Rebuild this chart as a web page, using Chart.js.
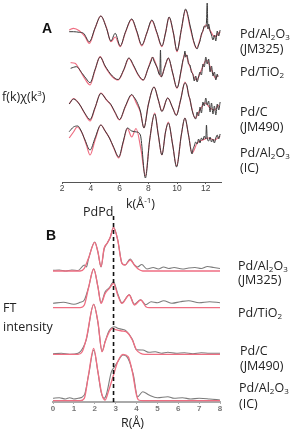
<!DOCTYPE html>
<html>
<head>
<meta charset="utf-8">
<title>Pd EXAFS fits</title>
<script src="https://cdn.jsdelivr.net/npm/chart.js@4.4.0/dist/chart.umd.min.js"></script>
<style>
  body { margin: 0; width: 291px; height: 432px; background: #fff; position: relative; overflow: hidden;
         font-family: "Open Sans", sans-serif; color: #222; }
  canvas { position: absolute; left: 0; }
  .t { position: absolute; font-size: 12.5px; line-height: 15px; white-space: nowrap; }
  .t sub { font-size: 8px; vertical-align: -2px; line-height: 0; }
  .t sup { font-size: 8px; vertical-align: 5px; line-height: 0; }
  .p { position: absolute; font: bold 14px "Liberation Sans", Arial, sans-serif; line-height: 14px; color: #111; }
</style>
</head>
<body>
<canvas id="chartA" width="291" height="198" style="top:0"></canvas>
<canvas id="chartB" width="291" height="200" style="top:216px"></canvas>

<div class="p" style="left:42px;top:21px">A</div>
<div class="p" style="left:46px;top:228px">B</div>
<div class="t" style="left:2px;top:89px">f(k)χ(k<sup>3</sup>)</div>
<div class="t" style="left:126px;top:196px">k(Å<sup>-1</sup>)</div>
<div class="t" style="left:83px;top:204px">PdPd</div>
<div class="t" style="left:3px;top:300px">FT</div>
<div class="t" style="left:3px;top:319px">intensity</div>
<div class="t" style="left:121px;top:415px">R(Å)</div>

<div class="t" style="left:240px;top:26px">Pd/Al<sub>2</sub>O<sub>3</sub></div>
<div class="t" style="left:240px;top:41px">(JM325)</div>
<div class="t" style="left:240px;top:64px">Pd/TiO<sub>2</sub></div>
<div class="t" style="left:240px;top:104px">Pd/C</div>
<div class="t" style="left:240px;top:119px">(JM490)</div>
<div class="t" style="left:240px;top:145px">Pd/Al<sub>2</sub>O<sub>3</sub></div>
<div class="t" style="left:240px;top:160px">(IC)</div>

<div class="t" style="left:238px;top:258px">Pd/Al<sub>2</sub>O<sub>3</sub></div>
<div class="t" style="left:238px;top:272px">(JM325)</div>
<div class="t" style="left:238px;top:305px">Pd/TiO<sub>2</sub></div>
<div class="t" style="left:240px;top:343px">Pd/C</div>
<div class="t" style="left:240px;top:358px">(JM490)</div>
<div class="t" style="left:239px;top:380px">Pd/Al<sub>2</sub>O<sub>3</sub></div>
<div class="t" style="left:239px;top:396px">(IC)</div>

<script>
// ---- panel A: k-space, [k, chi] pairs, stacked with offsetsA ----
const kTicks = [2, 4, 6, 8, 10, 12];
const offsetsA = [15.0, 11.2, 7.4, 4.2];

const fitA_JM325 = [[2.5,0.2],[2.8,0.37],[3.2,0.13],[3.6,-0.47],[3.9,-1.13],[4.3,0.37],[4.7,1.6],[5.1,0.4],[5.4,-0.97],[5.7,-0.5],[6.05,-1.47],[6.4,-0.1],[6.85,1.27],[7.2,0.03],[7.55,-1.4],[7.9,-0.1],[8.25,1.13],[8.6,-0.1],[8.95,-1.47],[9.2,-0.1],[9.45,1.47],[9.75,-0.1],[10.0,-1.97],[10.3,0.2],[10.6,2.2],[10.95,0.2],[11.35,-1.63],[11.7,-0.3],[12.0,0.7],[12.35,0.03],[12.6,-0.47],[13.0,0.03]];
const expA_JM325 = [[2.5,0.03],[2.8,0.03],[3.2,-0.03],[3.5,-0.13],[3.9,-0.97],[4.3,0.4],[4.7,1.6],[5.1,0.35],[5.4,-0.9],[5.7,-0.13],[6.05,-1.4],[6.4,-0.05],[6.85,1.3],[7.2,0.1],[7.55,-1.3],[7.9,-0.1],[8.25,1.2],[8.6,-0.05],[8.95,-1.4],[9.2,-0.1],[9.45,1.5],[9.75,-0.1],[10.0,-1.9],[10.3,0.25],[10.6,2.3],[10.7,2.0],[10.8,1.4],[10.9,0.7],[11.0,0.1],[11.1,-0.6],[11.2,-1.1],[11.3,-1.5],[11.4,-1.7],[11.5,-1.3],[11.6,-0.9],[11.7,-0.2],[11.8,0.1],[11.9,0.6],[12.0,0.5],[12.05,1.0],[12.1,2.9],[12.15,0.3],[12.2,0.8],[12.3,0.1],[12.4,-0.3],[12.5,-0.8],[12.6,-0.3],[12.7,-0.9],[12.8,0.1],[12.9,-0.4],[13.0,0.2]];

const fitA_TiO2 = [[2.6,0.73],[2.9,0.67],[3.3,-0.17],[3.6,-0.9],[3.95,-1.5],[4.3,0],[4.65,1.33],[5.0,0.33],[5.5,-0.67],[5.9,-1.0],[6.3,0],[6.65,1.17],[7.0,0.33],[7.3,-0.5],[7.65,-1.0],[8.0,0.2],[8.3,1.27],[8.6,0.33],[8.9,-0.67],[9.15,0.33],[9.4,1.17],[9.7,-0.33],[10.0,-1.83],[10.3,0],[10.55,1.67],[10.9,0.33],[11.35,-1.0],[11.7,0],[12.05,1.0],[12.4,0],[12.7,-0.83],[12.85,-0.5]];
const expA_TiO2 = [[2.6,0.17],[3.0,0.33],[3.4,-0.33],[3.7,-0.9],[3.95,-1.27],[4.3,0.05],[4.65,1.3],[5.0,0.4],[5.5,-0.6],[5.9,-0.95],[6.3,0.05],[6.65,1.2],[7.0,0.4],[7.3,-0.45],[7.65,-1.0],[8.0,0.2],[8.2,0.9],[8.3,1.3],[8.4,0.9],[8.6,0.3],[8.8,-0.5],[8.85,2.0],[8.9,-0.7],[9.15,0.3],[9.4,1.2],[9.7,-0.3],[10.0,-1.8],[10.3,0.1],[10.4,0.9],[10.5,1.4],[10.55,1.9],[10.6,1.3],[10.7,1.5],[10.8,0.6],[10.9,0.5],[11.0,-0.2],[11.1,-0.4],[11.2,-1.1],[11.3,-0.6],[11.4,-1.2],[11.5,-0.7],[11.6,-0.2],[11.7,-0.5],[11.8,0.6],[11.9,0.3],[12.0,1.3],[12.1,0.6],[12.2,1.1],[12.3,-0.2],[12.4,0.4],[12.5,-0.6],[12.6,-0.2],[12.7,-1.0],[12.8,-0.4],[12.85,-0.7]];

const fitA_JM490 = [[2.5,0.4],[2.8,0.95],[3.2,0.4],[3.6,-0.6],[3.95,-1.3],[4.3,0],[4.7,1.5],[5.1,0.8],[5.4,0.3],[5.7,-0.5],[6.0,-1.2],[6.4,0.1],[6.85,1.3],[7.2,0.4],[7.45,-0.4],[7.7,-2.0],[8.0,0.3],[8.4,2.1],[8.7,0.8],[8.95,-0.3],[9.35,1.0],[9.7,0],[9.95,-0.7],[10.25,0.8],[10.55,2.6],[10.9,0.8],[11.25,-1.0],[11.6,-0.2],[11.95,0.5],[12.3,0],[12.6,-0.2],[12.9,0.3]];
const expA_JM490 = [[2.5,0.4],[2.8,0.9],[3.2,0.4],[3.6,-0.55],[3.95,-1.15],[4.3,0.05],[4.7,1.45],[5.1,0.8],[5.4,0.35],[5.7,-0.45],[6.0,-1.15],[6.4,0.15],[6.85,1.35],[7.0,1.1],[7.2,0.65],[7.45,-0.3],[7.7,-2.0],[8.0,0.3],[8.4,2.1],[8.7,0.8],[8.95,-0.35],[9.35,1.0],[9.7,0],[9.95,-0.75],[10.25,0.8],[10.55,2.5],[10.7,2.2],[10.8,1.3],[10.9,0.9],[11.0,0.1],[11.1,-0.5],[11.2,-0.9],[11.3,-1.1],[11.4,-0.4],[11.5,-0.8],[11.6,0.1],[11.7,-0.5],[11.8,0.6],[11.9,0.2],[12.0,1.0],[12.1,0.3],[12.2,0.7],[12.3,-0.4],[12.4,0.5],[12.5,-0.6],[12.6,0.2],[12.7,-0.7],[12.8,0.4],[12.9,-0.2],[13.0,0.6]];

const fitA_IC = [[2.5,0.2],[2.8,0.8],[3.05,1.3],[3.4,0.7],[3.7,-0.5],[3.95,-1.5],[4.3,0],[4.7,1.5],[5.0,0.9],[5.3,0.2],[5.6,-0.8],[5.95,-1.8],[6.25,-0.3],[6.55,1.15],[6.85,0.3],[7.15,1.15],[7.5,-1.0],[7.8,-3.6],[8.1,0],[8.45,2.7],[8.7,0.5],[8.95,-1.5],[9.2,0.8],[9.4,1.8],[9.7,-0.5],[9.97,-2.6],[10.3,0.5],[10.55,2.2],[10.8,0.5],[11.05,-1.3],[11.4,-0.3],[11.8,0],[12.2,0.2],[12.6,0],[13.0,0.4]];
const expA_IC = [[2.5,0.83],[2.8,1.3],[3.1,1.4],[3.3,1.0],[3.6,0],[3.95,-1.0],[4.3,0.2],[4.7,1.5],[5.0,0.9],[5.3,0.2],[5.6,-0.75],[5.95,-1.7],[6.25,-0.2],[6.55,1.2],[6.85,0.9],[7.2,0.8],[7.45,0.5],[7.8,-3.8],[8.1,0],[8.45,2.6],[8.7,0.5],[8.95,-1.5],[9.2,0.8],[9.4,1.7],[9.7,-0.5],[9.97,-2.7],[10.3,0.5],[10.55,2.2],[10.8,0.5],[11.05,-1.4],[11.1,-1.0],[11.2,-0.6],[11.3,-0.2],[11.4,-0.4],[11.5,0.1],[11.6,-0.3],[11.7,0.2],[11.8,0],[11.9,0.4],[12.0,0.1],[12.05,1.5],[12.1,0.2],[12.2,-0.1],[12.3,0.3],[12.4,-0.2],[12.5,0.1],[12.6,-0.3],[12.7,0.2],[12.8,0.5],[12.9,0.1],[13.0,0.6]];

// ---- panel B: R-space FT magnitude, [R, |FT|] pairs, stacked with offsetsB ----
const rTicks = [0, 1, 2, 3, 4, 5, 6, 7, 8];
const offsetsB = [13.1, 9.43, 4.77, 0.13];
const pdpdR = 2.9;

const fitB_JM325 = [[0,0],[1.3,0],[1.5,0.27],[1.7,1.27],[2.0,2.87],[2.15,1.93],[2.3,0.43],[2.45,2.3],[2.6,2.77],[2.75,3.43],[2.9,4.33],[3.1,3.1],[3.3,0.77],[3.45,0.6],[3.7,1.1],[3.9,0.6],[4.1,0.17],[4.3,0],[8,0]];
const expB_JM325 = [[0,0.07],[0.3,0.1],[0.6,0],[0.9,0.1],[1.2,0.05],[1.5,0.6],[1.6,0.4],[1.7,1.2],[2.0,2.9],[2.15,1.9],[2.3,0.4],[2.45,2.2],[2.6,2.8],[2.75,3.4],[2.9,4.4],[3.1,3.1],[3.3,0.8],[3.45,0.6],[3.7,1.2],[3.9,0.6],[4.05,0.4],[4.25,0.65],[4.5,0.2],[4.8,0.35],[5.05,0.2],[5.3,0.4],[5.55,0.25],[5.8,0.35],[6.2,0.2],[6.5,0.3],[6.8,0.35],[7.1,0.25],[7.4,0.45],[7.7,0.35],[8.0,0.25]];

const fitB_TiO2 = [[0,0],[1.3,0],[1.5,0.27],[1.7,1.97],[1.95,3.87],[2.15,2.1],[2.3,0.43],[2.5,1.43],[2.7,1.93],[2.9,2.43],[3.1,1.27],[3.3,0.43],[3.65,1.27],[3.9,0.27],[4.2,0.77],[4.45,0.1],[4.6,0],[8,0]];
const expB_TiO2 = [[0,0.44],[0.5,0.54],[1.0,0.34],[1.3,0.54],[1.5,0.77],[1.7,2.0],[1.95,3.9],[2.15,2.1],[2.3,0.5],[2.5,1.6],[2.7,2.0],[2.9,2.6],[3.1,1.4],[3.3,0.5],[3.65,1.3],[3.9,0.35],[4.2,0.8],[4.45,0.3],[4.7,0.6],[5.0,0.5],[5.3,0.7],[5.7,0.45],[6.1,0.6],[6.5,0.7],[7.0,0.5],[7.5,0.6],[8.0,0.5]];

const fitB_JM490 = [[0,0],[1.2,0],[1.4,0.26],[1.6,1.6],[1.95,5.0],[2.15,3.26],[2.35,0.26],[2.5,1.26],[2.7,2.26],[2.85,2.6],[3.0,2.46],[3.3,2.33],[3.5,2.26],[3.8,1.43],[4.0,0.43],[4.2,0.1],[4.4,0],[8,0]];
const expB_JM490 = [[0,0.05],[0.4,0.1],[0.8,0],[1.2,0.1],[1.45,0.7],[1.6,1.5],[1.95,5.0],[2.15,3.2],[2.35,0.3],[2.5,1.3],[2.7,2.4],[2.95,2.76],[3.1,2.6],[3.3,2.5],[3.5,2.35],[3.8,1.5],[4.0,0.45],[4.3,0.43],[4.6,0.2],[4.9,0.25],[5.2,0.1],[5.5,0.2],[5.9,0.1],[6.3,0.15],[6.7,0.05],[7.1,0.15],[7.5,0.1],[8.0,0.1]];

const fitB_IC = [[0,0],[1.3,0],[1.5,0.24],[1.7,2.57],[1.95,5.24],[2.15,2.9],[2.35,0.57],[2.5,0.07],[2.65,0.9],[2.9,2.57],[3.1,3.9],[3.35,4.64],[3.6,4.4],[3.8,2.9],[4.0,0.57],[4.1,0.07],[4.3,0],[8,0]];
const expB_IC = [[0,0.24],[0.3,0.3],[0.6,0.17],[0.8,0.3],[1.0,0.17],[1.2,0.24],[1.5,0.57],[1.7,2.5],[1.95,5.07],[2.15,2.9],[2.3,0.9],[2.45,0.24],[2.55,0.57],[2.8,2.9],[2.95,3.4],[3.1,3.9],[3.35,4.57],[3.6,4.2],[3.85,2.57],[4.05,0.4],[4.3,0.9],[4.6,0.57],[5.0,0.3],[5.5,0.4],[5.8,0.24],[6.2,0.3],[6.6,0.17],[7.0,0.24],[7.5,0.17],[8.0,0.07]];

const fitColor = '#ef6e82';
const expColorA = '#3a3a3a';
const expColorB = '#7c7c7c';

function stacked(points, off) {
  return points.map(([x, v]) => ({ x: x, y: v + off }));
}

function line(points, off, color, width) {
  return { data: stacked(points, off), borderColor: color, borderWidth: width, pointRadius: 0, fill: false };
}

const pdpdLine = {
  id: 'pdpdLine',
  afterDatasetsDraw(chart) {
    const { ctx, chartArea, scales } = chart;
    const x = scales.x.getPixelForValue(pdpdR);
    ctx.save();
    ctx.strokeStyle = '#111';
    ctx.lineWidth = 1.6;
    ctx.setLineDash([4, 3]);
    ctx.beginPath();
    ctx.moveTo(x, chartArea.top);
    ctx.lineTo(x, chartArea.bottom);
    ctx.stroke();
    ctx.restore();
  }
};

function baseOptions(pad, xmin, xmax, ymax, ticks, axisH, axisColor, axisW, tickFont, tickColor) {
  return {
    responsive: false,
    animation: false,
    devicePixelRatio: 1,
    layout: { padding: pad },
    plugins: { legend: { display: false }, tooltip: { enabled: false } },
    elements: { line: { cubicInterpolationMode: 'monotone', borderJoinStyle: 'round' } },
    scales: {
      x: {
        type: 'linear', min: xmin, max: xmax,
        afterBuildTicks: s => { s.ticks = ticks.map(v => ({ value: v })); },
        afterFit: s => { s.height = axisH; },
        grid: { drawOnChartArea: false, drawTicks: true, tickLength: 2, color: axisColor },
        border: { color: axisColor, width: axisW },
        ticks: { color: tickColor, padding: 0, maxRotation: 0, autoSkip: false, font: tickFont }
      },
      y: { display: false, min: 0, max: ymax }
    }
  };
}

const expA = [expA_JM325, expA_TiO2, expA_JM490, expA_IC];
const fitA = [fitA_JM325, fitA_TiO2, fitA_JM490, fitA_IC];
new Chart(document.getElementById('chartA'), {
  type: 'line',
  data: {
    datasets: [
      ...expA.map((p, i) => line(p, offsetsA[i], expColorA, 1)),
      ...fitA.map((p, i) => line(p, offsetsA[i], fitColor, 1.2))
    ]
  },
  options: baseOptions({ left: 62, right: 70, top: 0, bottom: 0 }, 2, 13.06, 18.2, kTicks, 16,
    '#555', 1, { family: 'Liberation Sans', size: 8.5, lineHeight: 1 }, '#444')
});

const expB = [expB_JM325, expB_TiO2, expB_JM490, expB_IC];
const fitB = [fitB_JM325, fitB_TiO2, fitB_JM490, fitB_IC];
new Chart(document.getElementById('chartB'), {
  type: 'line',
  data: {
    datasets: [
      ...fitB.map((p, i) => line(p, offsetsB[i], fitColor, 1.3)),
      ...expB.map((p, i) => line(p, offsetsB[i], expColorB, 1.1))
    ]
  },
  options: baseOptions({ left: 53, right: 71, top: 0, bottom: 0 }, 0, 8, 18.6, rTicks, 14,
    '#aaaaaa', 2, { family: 'Liberation Sans', size: 8, weight: 'bold' }, '#777'),
  plugins: [pdpdLine]
});
</script>
</body>
</html>
